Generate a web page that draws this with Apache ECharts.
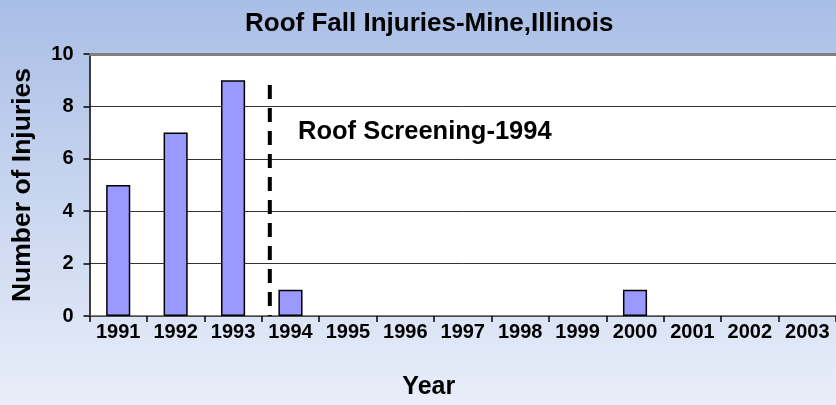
<!DOCTYPE html>
<html>
<head>
<meta charset="utf-8">
<script src="https://cdn.jsdelivr.net/npm/echarts@6/dist/echarts.min.js"></script>
<style>html,body{margin:0;padding:0;}#c{width:836px;height:405px;}</style>
</head>
<body>
<div id="c"></div>
<script>
const years = ['1991','1992','1993','1994','1995','1996','1997','1998','1999','2000','2001','2002','2003'];
const injuries = [5, 7, 9, 1, 0, 0, 0, 0, 0, 1, 0, 0, 0];
const yTicks = [0, 2, 4, 6, 8, 10];
const screeningLine = [[3.14, 8.82], [3.14, 0]];
const titleText = 'Roof Fall Injuries-Mine,Illinois';
const noteText = 'Roof Screening-1994';

const chart = echarts.init(document.getElementById('c'));
const font = '"Liberation Sans", Arial, sans-serif';
chart.setOption({
  animation: false,
  backgroundColor: {
    type: 'linear', x: 0, y: 0, x2: 0, y2: 1,
    colorStops: [{offset: 0, color: '#a9bee6'}, {offset: 1, color: '#e9eef9'}]
  },
  title: {
    text: titleText, left: 240, top: 6,
    textStyle: {fontFamily: font, fontWeight: 'bold', fontSize: 26, color: '#000'}
  },
  graphic: [{
    type: 'text', left: 298, top: 119,
    style: {text: noteText, fontFamily: font, fontWeight: 'bold', fontSize: 25.5, fill: '#000'}
  }],
  grid: {left: 89.5, right: -2, top: 54, bottom: 89, show: true, backgroundColor: '#fff', borderWidth: 0},
  xAxis: [{
    type: 'category', data: years,
    name: 'Year', nameLocation: 'middle', nameGap: 59,
    nameTextStyle: {fontFamily: font, fontWeight: 'bold', fontSize: 25, color: '#000', padding: [0, 68, 0, 0]},
    axisLine: {lineStyle: {color: '#555', width: 1.5}},
    axisTick: {show: true, length: 6, lineStyle: {color: '#000', width: 1.5}},
    axisLabel: {fontFamily: font, fontWeight: 'bold', fontSize: 20, color: '#000', margin: 6, interval: 0}
  }, {
    type: 'value', min: 0, max: years.length, show: false
  }],
  yAxis: {
    type: 'value', min: yTicks[0], max: yTicks[yTicks.length - 1], interval: 2,
    name: 'Number of Injuries', nameLocation: 'middle', nameGap: 53,
    nameTextStyle: {fontFamily: font, fontWeight: 'bold', fontSize: 26.5, color: '#000'},
    axisLine: {show: true, lineStyle: {color: '#000', width: 1.5}},
    axisTick: {show: true, length: 6, lineStyle: {color: '#000', width: 1.5}},
    axisLabel: {fontFamily: font, fontWeight: 'bold', fontSize: 20, color: '#000', margin: 16},
    splitLine: {lineStyle: {color: '#333', width: 1}}
  },
  series: [{
    type: 'bar', data: injuries.map(v => v === 0 ? null : v), barWidth: '42%',
    itemStyle: {color: '#9999ff', borderColor: '#000', borderWidth: 1.5},
    markLine: {
      silent: true, symbol: 'none', label: {show: false},
      lineStyle: {color: '#808080', width: 3, type: 'solid'},
      data: [{yAxis: yTicks[yTicks.length - 1]}]
    }
  }, {
    type: 'line', xAxisIndex: 1, data: screeningLine, symbol: 'none',
    lineStyle: {color: '#000', width: 4, type: [14, 9]}
  }]
});
</script>
</body>
</html>
